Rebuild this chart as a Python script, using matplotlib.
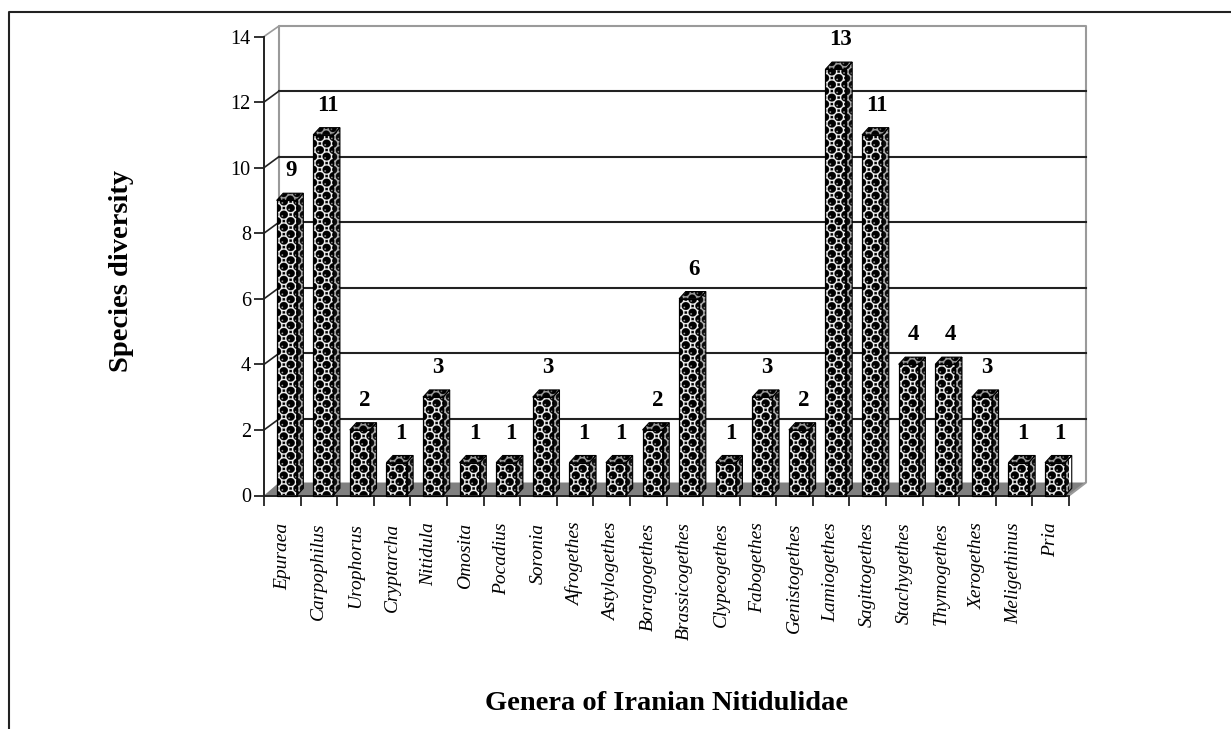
import matplotlib
matplotlib.use("Agg")
import matplotlib.pyplot as plt
import numpy as np
from matplotlib.patches import Polygon

genera = ["Epuraea","Carpophilus","Urophorus","Cryptarcha","Nitidula","Omosita","Pocadius","Soronia",
          "Afrogethes","Astylogethes","Boragogethes","Brassicogethes","Clypeogethes","Fabogethes",
          "Genistogethes","Lamiogethes","Sagittogethes","Stachygethes","Thymogethes","Xerogethes",
          "Meligethinus","Pria"]
species = [9,11,2,1,3,1,1,3,1,1,2,6,1,3,2,13,11,4,4,3,1,1]
yticks = [0,2,4,6,8,10,12,14]

W, H = 1231, 729
plt.rcParams['font.family'] = ['Liberation Serif', 'DejaVu Serif']
fig = plt.figure(figsize=(W/100, H/100), dpi=100)

fr = fig.add_axes([0,0,1,1]); fr.set_xlim(0,W); fr.set_ylim(H,0); fr.axis('off')
fr.plot([9,9,W],[H,12,12],color='#222222',lw=1.5)

x0, x1, y0, y14 = 264, 1069, 495.5, 36.5
ax = fig.add_axes([x0/W, 1-y0/H, (x1-x0)/W, (y0-y14)/H])
ax.set_xlim(0, len(genera)); ax.set_ylim(0, 14)
ax.patch.set_alpha(0)
sx = (x1-x0)/len(genera)
sy = (y0-y14)/14
dxl, dxr = 15/sx, 17/sx
dyg, dyf, dyt = 11/sy, 13/sy, 10.5/sy
wall = '#9a9a9a'

ax.add_patch(Polygon([(0,0),(dxl,dyf),(22+dxr,dyf),(22,0)],closed=True,fc='#808080',ec='none',zorder=1,clip_on=False))
ax.plot([dxl,dxl,22+dxr,22+dxr,22],[dyf,14+dyt,14+dyt,dyf,0],color=wall,lw=1.5,clip_on=False,zorder=1)
ax.plot([0,dxl],[14,14+dyt],color=wall,lw=1.2,clip_on=False,zorder=1)
for t in yticks[1:-1]:
    ax.plot([0,dxl],[t,t+dyg],color='#222222',lw=1.2,clip_on=False,zorder=1)
    ax.plot([dxl,22+dxr],[t+dyg,t+dyg],color='#222222',lw=1.5,clip_on=False,zorder=1)

# ball fill of the bars, as a repeating picture tile
P = 13.0
S = 4
n = int(P*S)
yy, xx = np.mgrid[0:n, 0:n]
xx = (xx+0.5)/S; yy = (yy+0.5)/S
tile = np.zeros((n, n))
centres = [(0,0),(P,0),(0,P),(P,P),(P/2,P/2)]
for cx, cy in centres:
    r = np.hypot(xx-cx, yy-cy)
    tile = np.where(r < 5.3, 1.0, tile)
for cx, cy in centres:
    r = np.hypot(xx-cx, yy-cy)
    tile = np.where(r < 4.0, 0.0, tile)
    h = np.hypot(xx-cx+1.4, yy-cy+1.4)
    tile = np.where(h < 0.8, 0.7, tile)

def texture(w_px, h_px, low=0.0, high=1.0):
    nx = int(np.ceil(w_px*S/n))+1
    ny = int(np.ceil(h_px*S/n))+1
    t = np.tile(tile, (ny, nx))[:int(h_px*S), :int(w_px*S)]
    return low + t*(high-low)

positions = [i+0.5 for i in range(len(genera))]
bw, bdx, bdy = 0.55, 0.18, 0.22
offset = 0.12
bars = ax.bar([p+offset for p in positions], species, width=bw, fc='none', ec='black', lw=0.8, zorder=4, clip_on=False)

def fill(poly, low, high):
    xs = [q[0] for q in poly]; ys = [q[1] for q in poly]
    l, r, b, t = min(xs), max(xs), min(ys), max(ys)
    tex = texture((r-l)*sx, (t-b)*sy, low, high)
    patch = Polygon(poly, closed=True, fc='none', ec='black', lw=0.8, zorder=4, clip_on=False)
    ax.add_patch(patch)
    im = ax.imshow(tex, cmap='gray', vmin=0, vmax=1, extent=(l, r, b, t), aspect='auto',
                   interpolation='antialiased', zorder=3, origin='lower')
    im.set_clip_path(patch)

for bar, v in zip(bars, species):
    l, r = bar.get_x(), bar.get_x()+bar.get_width()
    fill([(l,0),(r,0),(r,v),(l,v)], 0.0, 1.0)
    fill([(r,0),(r+bdx,bdy),(r+bdx,v+bdy),(r,v)], 0.05, 0.75)
    fill([(l,v),(l+bdx,v+bdy),(r+bdx,v+bdy),(r,v)], 0.0, 0.65)
    ax.text((l+r)/2+0.13, v+0.58, str(v), ha='center', va='bottom', fontsize=16.5, fontweight='bold', zorder=5)
ax.set_xlim(0, len(genera)); ax.set_ylim(0, 14)

for s in ['top','right']:
    ax.spines[s].set_visible(False)
for s in ['left','bottom']:
    ax.spines[s].set_color('#222222'); ax.spines[s].set_linewidth(1.4)
ax.set_yticks(yticks)
ax.set_yticklabels([str(t) for t in yticks], fontsize=14.5)
ax.set_xticks(range(len(genera)+1))
ax.set_xticklabels([])
ax.tick_params(axis='both', length=7.5, width=1.3, color='#222222', direction='out')
ax.tick_params(axis='y', pad=2)
for p, g in zip(positions, genera):
    ax.annotate(g, (p, 0), xytext=(0, -27), xycoords='data', textcoords='offset pixels',
                rotation=90, ha='center', va='top', fontsize=14, style='italic')

fig.text(122/W, 1-271/H, 'Species diversity', rotation=90, ha='center', va='center', fontsize=20.5, fontweight='bold')
fig.text(667/W, 1-703/H, 'Genera of Iranian Nitidulidae', ha='center', va='center', fontsize=20.5, fontweight='bold')
fig.savefig('out.png', dpi=100)
